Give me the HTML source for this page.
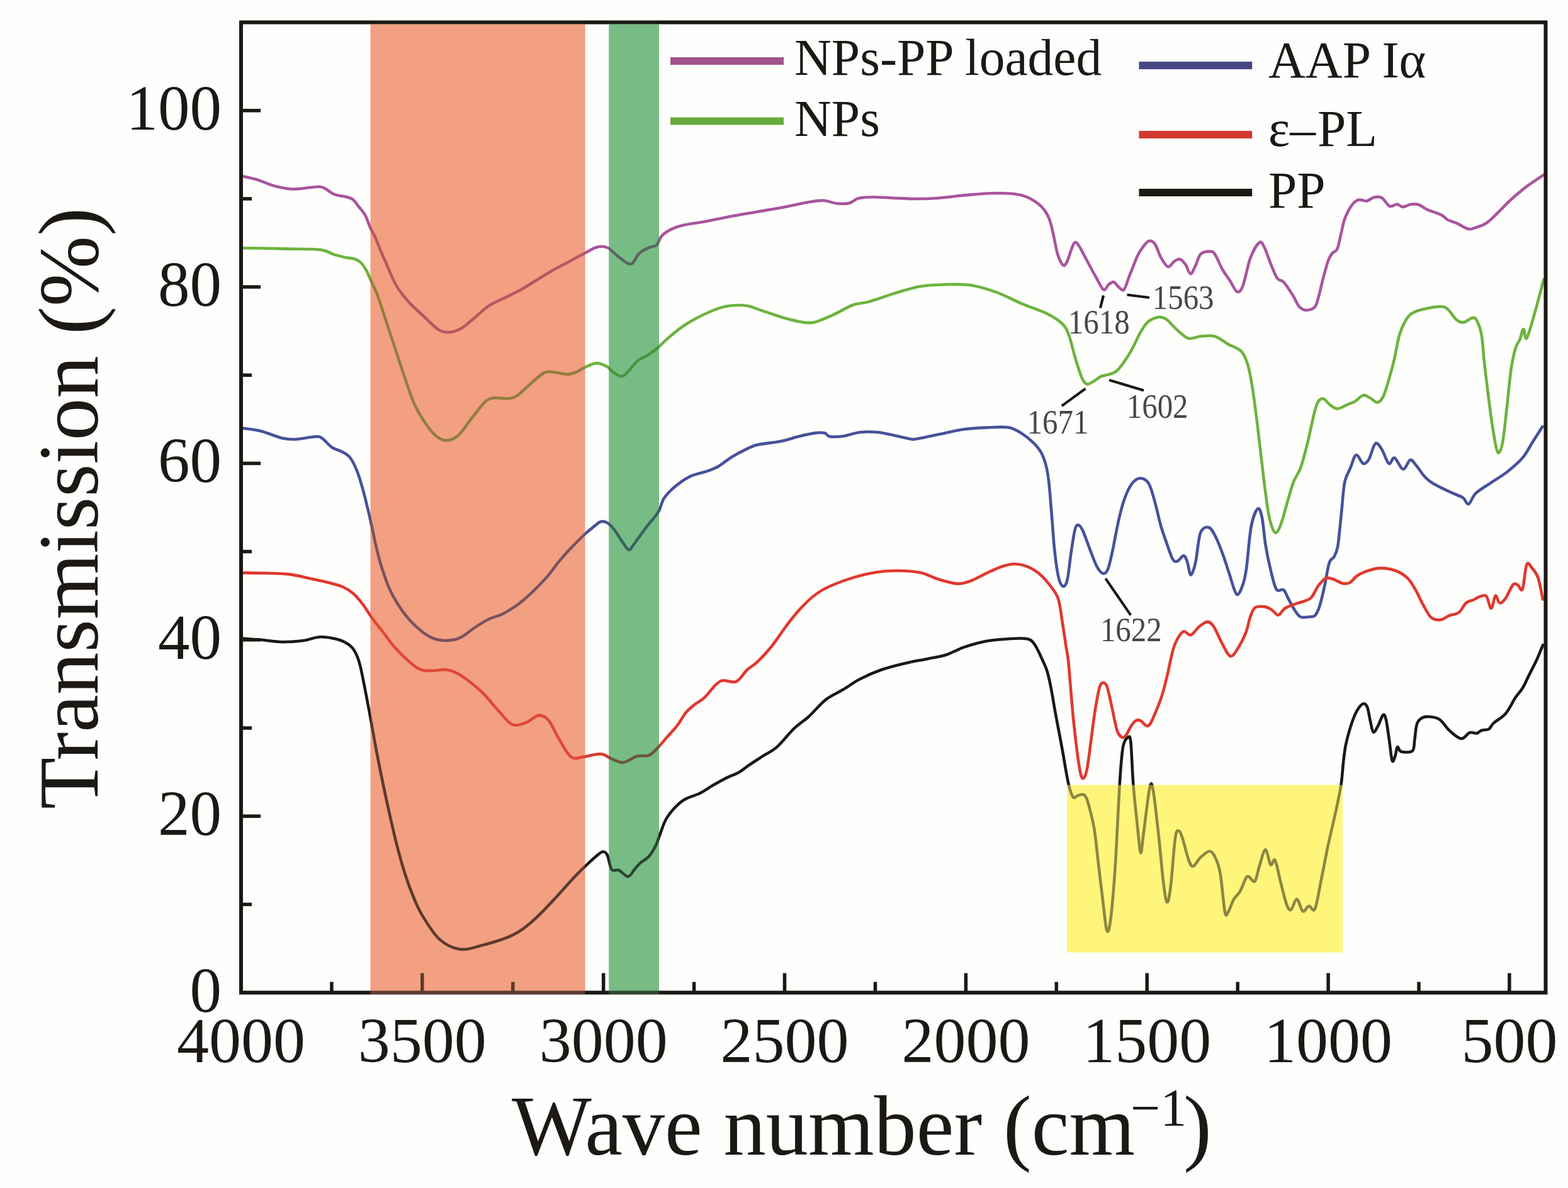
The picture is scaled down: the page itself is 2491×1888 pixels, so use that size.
<!DOCTYPE html>
<html><head><meta charset="utf-8"><title>FTIR spectra</title>
<style>
html,body{margin:0;padding:0;background:#fefefc;}
svg{display:block;}
.t{font-family:"Liberation Serif","DejaVu Serif",serif;fill:#1b1815;}
</style></head>
<body>
<svg width="2491" height="1888" viewBox="0 0 2491 1888">
<rect x="0" y="0" width="2491" height="1888" fill="#fefefc"/>
<g fill="none" stroke-width="4.6" stroke-linejoin="round" stroke-linecap="round">
<path d="M384.5,680.4C389.4,681.1 403.4,682.3 414.0,684.9C424.6,687.5 438.6,694.0 448.0,696.2C457.4,698.4 461.9,698.5 470.6,698.1C479.3,697.7 493.3,694.3 500.1,694.0C506.9,693.7 506.9,693.4 511.4,696.2C515.9,699.0 522.0,707.4 527.3,711.0C532.6,714.6 538.2,715.0 543.1,717.8C548.0,720.6 552.6,722.5 556.7,728.0C560.9,733.5 564.6,741.9 568.0,750.6C571.4,759.3 574.5,770.7 577.1,780.1C579.8,789.5 581.6,797.9 583.9,807.3C586.2,816.7 588.4,826.5 590.7,836.7C593.0,846.9 594.9,857.5 597.5,868.4C600.1,879.3 602.8,890.7 606.6,902.4C610.4,914.1 614.5,927.0 620.1,938.7C625.8,950.4 633.3,962.8 640.5,972.6C647.7,982.4 655.7,990.8 663.2,997.6C670.8,1004.4 678.2,1010.0 685.8,1013.4C693.3,1016.8 700.9,1018.0 708.5,1018.0C716.1,1018.0 723.7,1016.8 731.2,1013.4C738.8,1010.0 746.2,1002.5 753.8,997.6C761.3,992.7 768.8,987.8 776.5,984.0C784.2,980.2 791.1,979.7 800.0,974.9C808.9,970.1 819.0,964.1 830.0,955.0C841.0,945.9 856.5,930.4 866.1,920.0C875.7,909.6 880.9,901.0 887.6,892.9C894.4,884.8 899.6,878.8 906.6,871.4C913.6,864.0 923.1,854.5 929.4,848.6C935.7,842.7 940.4,839.2 944.6,835.9C948.8,832.6 951.3,829.8 954.7,829.0C958.1,828.2 961.2,828.7 964.8,830.9C968.4,833.1 972.2,837.2 976.2,842.3C980.2,847.4 985.1,856.0 988.9,861.3C992.7,866.6 995.9,873.5 999.0,873.9C1002.1,874.3 1003.1,869.9 1007.8,863.8C1012.5,857.7 1020.7,845.8 1027.0,837.5C1033.3,829.2 1041.2,821.3 1045.7,813.9C1050.2,806.5 1050.6,799.0 1054.1,793.1C1057.6,787.2 1061.7,783.2 1066.5,778.5C1071.3,773.8 1077.7,768.8 1083.2,765.0C1088.8,761.2 1092.9,758.5 1099.8,755.7C1106.7,752.9 1117.9,750.8 1124.8,748.4C1131.7,746.0 1135.2,744.8 1141.4,741.1C1147.6,737.5 1155.3,730.8 1162.2,726.5C1169.1,722.2 1176.1,718.4 1183.0,715.1C1189.9,711.8 1194.5,709.0 1203.8,706.8C1213.1,704.5 1228.0,703.9 1239.1,701.6C1250.2,699.4 1260.9,695.5 1270.3,693.3C1279.7,691.0 1288.7,689.0 1295.3,688.1C1301.9,687.2 1306.0,687.2 1309.8,688.1C1313.6,689.0 1313.3,692.8 1318.2,693.7C1323.1,694.6 1331.0,694.4 1339.0,693.3C1347.0,692.2 1356.7,688.0 1366.0,687.0C1375.3,686.0 1385.0,686.0 1395.1,687.0C1405.1,688.0 1417.6,691.5 1426.3,693.3C1435.0,695.1 1442.1,697.1 1447.1,697.8C1452.1,698.5 1448.9,698.7 1456.2,697.5C1463.5,696.3 1478.2,692.9 1490.7,690.4C1503.2,687.9 1517.7,684.1 1531.2,682.3C1544.7,680.4 1560.0,679.8 1571.8,679.3C1583.6,678.8 1593.8,677.8 1602.2,679.3C1610.6,680.8 1615.7,684.2 1622.4,688.4C1629.2,692.6 1637.3,699.2 1642.7,704.6C1648.1,710.0 1651.5,714.0 1654.9,720.8C1658.3,727.5 1661.0,736.3 1663.0,745.1C1665.0,753.9 1665.7,760.6 1667.0,773.5C1668.3,786.4 1669.7,805.6 1671.1,822.2C1672.5,838.8 1673.5,857.4 1675.2,872.9C1676.9,888.4 1679.0,905.6 1681.2,915.4C1683.4,925.2 1685.9,930.5 1688.3,931.6C1690.7,932.7 1693.2,930.8 1695.4,922.0C1697.6,913.2 1699.5,892.2 1701.5,878.9C1703.5,865.6 1705.7,849.8 1707.6,842.4C1709.5,835.0 1710.7,834.3 1712.7,834.3C1714.7,834.3 1716.8,836.6 1719.7,842.4C1722.6,848.1 1726.2,859.3 1729.9,868.8C1733.6,878.3 1738.3,892.1 1742.0,899.2C1745.7,906.3 1749.2,910.6 1752.2,911.4C1755.2,912.2 1757.6,910.4 1760.2,904.1C1762.8,897.8 1765.0,886.6 1767.8,873.6C1770.6,860.6 1774.1,839.6 1777.3,825.9C1780.5,812.2 1783.4,801.0 1786.9,791.5C1790.4,782.0 1794.2,773.9 1798.3,768.6C1802.4,763.4 1807.2,760.0 1811.7,760.0C1816.2,760.0 1821.2,762.4 1825.0,768.6C1828.8,774.8 1831.4,786.2 1834.6,797.3C1837.8,808.4 1840.9,824.3 1844.1,835.4C1847.3,846.5 1850.5,855.1 1853.7,864.0C1856.9,872.9 1860.4,884.3 1863.2,888.9C1866.0,893.5 1867.9,892.7 1870.8,891.7C1873.7,890.7 1877.9,882.9 1880.4,883.1C1883.0,883.3 1884.2,887.6 1886.1,892.7C1888.0,897.8 1889.6,913.7 1891.8,913.7C1894.0,913.7 1897.0,903.8 1899.5,892.7C1902.0,881.6 1903.6,856.0 1907.1,846.9C1910.6,837.8 1916.4,837.0 1920.5,838.3C1924.6,839.6 1928.1,847.0 1931.9,854.5C1935.7,862.0 1939.9,873.6 1943.4,883.1C1946.9,892.6 1949.4,901.6 1952.9,911.8C1956.4,922.0 1960.9,941.0 1964.4,944.2C1967.9,947.4 1971.3,937.5 1973.9,930.8C1976.5,924.1 1977.7,919.6 1980.0,904.0C1982.3,888.4 1984.6,853.1 1987.6,837.2C1990.6,821.3 1995.2,811.1 1998.1,808.6C2001.0,806.1 2002.7,812.5 2004.8,822.0C2006.9,831.5 2008.3,852.2 2010.5,865.9C2012.7,879.6 2015.3,892.2 2018.2,904.0C2021.1,915.8 2024.2,930.9 2027.7,936.5C2031.2,942.1 2035.9,934.9 2039.1,937.4C2042.3,939.9 2043.9,946.5 2046.8,951.7C2049.7,957.0 2053.1,964.1 2056.3,968.9C2059.5,973.7 2062.1,978.4 2065.9,980.3C2069.7,982.2 2075.4,980.6 2079.2,980.3C2083.0,980.0 2085.9,981.2 2088.8,978.4C2091.7,975.5 2093.9,970.8 2096.4,963.2C2098.9,955.6 2101.4,944.1 2104.0,932.6C2106.6,921.1 2109.1,902.5 2111.7,894.5C2114.2,886.5 2117.1,889.0 2119.3,884.9C2121.5,880.8 2123.4,877.7 2125.0,869.7C2126.6,861.8 2127.6,848.0 2128.8,837.2C2130.0,826.4 2130.8,816.9 2132.0,805.0C2133.2,793.1 2134.1,776.3 2136.3,766.0C2138.5,755.7 2142.4,750.5 2145.4,743.4C2148.4,736.2 2151.0,724.2 2154.4,723.1C2157.8,722.0 2162.3,735.6 2165.7,736.7C2169.1,737.8 2171.5,735.2 2174.7,729.9C2177.9,724.6 2181.5,707.6 2184.9,705.0C2188.3,702.4 2191.5,708.7 2195.1,714.0C2198.7,719.3 2203.0,734.4 2206.4,736.7C2209.8,739.0 2211.6,726.1 2215.4,727.6C2219.2,729.1 2224.8,745.1 2229.0,745.7C2233.2,746.3 2236.9,732.1 2240.3,731.0C2243.7,729.9 2245.5,734.6 2249.3,738.9C2253.1,743.2 2258.4,752.1 2262.9,757.0C2267.4,761.9 2269.7,764.1 2276.5,768.3C2283.3,772.4 2295.7,778.1 2303.6,781.9C2311.5,785.7 2319.0,787.7 2323.9,790.9C2328.8,794.1 2329.6,802.2 2333.0,801.1C2336.4,800.0 2338.7,789.6 2344.3,784.1C2350.0,778.6 2358.6,773.9 2366.9,768.3C2375.2,762.6 2385.3,757.0 2394.0,750.2C2402.7,743.4 2412.1,735.5 2418.9,727.6C2425.7,719.7 2429.4,711.0 2434.7,702.7C2440.0,694.4 2447.9,682.0 2450.5,677.9" stroke="#47519a"/>
<path d="M383.6,394.2C389.0,394.2 403.0,394.3 415.8,394.5C428.6,394.7 445.0,395.2 460.5,395.6C476.0,396.0 496.9,395.3 508.8,396.9C520.7,398.4 525.1,402.8 532.0,404.9C538.9,407.0 544.9,408.3 550.0,409.4C555.1,410.4 558.6,409.9 562.5,411.2C566.4,412.5 569.9,414.3 573.2,417.4C576.5,420.5 579.4,425.2 582.1,430.0C584.8,434.8 586.3,439.3 589.3,446.0C592.3,452.7 596.1,459.7 600.0,470.0C603.9,480.3 609.0,497.2 612.6,508.0C616.2,518.8 616.4,519.7 621.5,535.0C626.6,550.3 636.6,581.5 643.0,600.0C649.4,618.5 653.7,632.6 660.1,646.0C666.5,659.4 675.5,672.3 681.6,680.6C687.7,688.9 691.6,692.4 696.6,695.6C701.6,698.8 706.2,700.6 711.6,699.9C717.0,699.2 722.3,697.4 728.8,691.3C735.2,685.2 743.1,672.3 750.3,663.4C757.5,654.5 765.7,642.8 771.8,637.6C777.9,632.4 781.1,633.0 786.8,632.3C792.5,631.6 800.4,633.9 806.1,633.4C811.8,632.9 815.4,632.7 821.1,629.1C826.8,625.5 833.3,618.0 840.5,611.9C847.7,605.8 857.7,596.0 864.1,592.6C870.5,589.2 873.0,591.1 879.1,591.5C885.2,591.9 894.5,594.7 900.6,594.7C906.7,594.7 911.0,593.3 915.6,591.5C920.2,589.7 923.1,586.4 928.5,584.0C933.9,581.6 941.7,577.3 947.8,577.1C953.9,576.9 960.9,580.9 965.0,583.0C969.1,585.1 968.6,587.5 972.2,590.0C975.8,592.5 982.4,597.7 986.4,598.0C990.4,598.3 992.1,596.0 996.5,592.0C1000.9,588.0 1007.3,578.3 1012.7,573.7C1018.1,569.1 1023.5,568.2 1028.9,564.6C1034.3,561.0 1039.8,557.0 1045.2,552.4C1050.6,547.8 1054.7,542.9 1061.4,537.2C1068.2,531.5 1077.2,523.7 1085.7,518.0C1094.2,512.3 1102.6,507.5 1112.1,502.8C1121.6,498.1 1134.0,492.5 1142.5,489.6C1151.0,486.7 1155.4,486.1 1162.8,485.5C1170.2,484.9 1178.7,484.6 1187.1,486.1C1195.5,487.6 1203.9,491.5 1213.4,494.6C1222.9,497.7 1233.8,501.9 1243.9,504.8C1254.1,507.7 1265.8,510.7 1274.3,511.9C1282.8,513.1 1286.1,513.9 1294.6,511.9C1303.0,509.9 1314.9,504.3 1325.0,499.7C1335.1,495.1 1346.2,487.9 1355.4,484.5C1364.6,481.1 1369.1,482.6 1380.0,479.6C1390.9,476.6 1407.1,470.5 1420.6,466.4C1434.1,462.3 1447.6,457.6 1461.1,455.2C1474.6,452.8 1488.2,452.5 1501.7,452.2C1515.2,451.9 1528.7,451.2 1542.2,453.2C1555.7,455.2 1569.3,459.5 1582.8,464.4C1596.3,469.3 1609.8,476.9 1623.3,482.6C1636.8,488.3 1653.1,493.4 1663.9,498.8C1674.7,504.2 1682.5,509.4 1688.2,515.1C1693.9,520.9 1694.9,524.2 1698.3,533.3C1701.7,542.4 1705.1,558.6 1708.5,569.8C1711.9,580.9 1715.6,593.4 1718.6,600.2C1721.6,607.0 1723.7,609.4 1726.7,610.4C1729.8,611.4 1733.2,608.3 1736.9,606.3C1740.6,604.3 1745.0,600.1 1749.0,598.2C1753.0,596.4 1756.8,596.9 1761.2,595.2C1765.6,593.5 1769.7,594.0 1775.4,588.1C1781.2,582.2 1789.6,569.8 1795.7,559.7C1801.8,549.6 1807.4,535.5 1812.2,527.4C1817.0,519.3 1819.6,515.0 1824.3,511.1C1829.0,507.2 1835.9,504.7 1840.6,504.0C1845.3,503.3 1848.3,504.2 1852.7,507.1C1857.1,510.0 1861.2,516.2 1866.9,521.3C1872.7,526.4 1880.4,535.3 1887.2,537.5C1894.0,539.7 1900.4,535.0 1907.5,534.5C1914.6,534.0 1922.4,532.3 1929.8,534.5C1937.2,536.7 1946.7,544.7 1952.1,547.6C1957.5,550.5 1958.4,549.9 1962.0,552.0C1965.6,554.1 1970.2,555.5 1973.6,560.3C1977.0,565.1 1980.0,571.7 1982.6,580.7C1985.2,589.8 1987.1,600.7 1989.4,614.6C1991.7,628.5 1994.0,646.6 1996.2,664.3C1998.5,682.0 2000.7,702.0 2002.9,720.8C2005.2,739.6 2007.4,760.3 2009.7,777.3C2012.0,794.2 2013.8,811.0 2016.5,822.5C2019.2,834.0 2022.6,844.4 2025.6,846.3C2028.6,848.2 2031.2,842.4 2034.6,833.9C2038.0,825.4 2042.5,806.7 2045.9,795.4C2049.3,784.1 2051.5,774.7 2054.9,766.0C2058.3,757.3 2062.4,753.9 2066.2,743.4C2070.0,732.9 2074.1,716.2 2077.5,702.7C2080.9,689.2 2083.9,672.6 2086.6,662.1C2089.2,651.6 2090.8,644.2 2093.4,639.5C2096.0,634.8 2099.0,633.0 2102.4,633.8C2105.8,634.5 2109.9,641.4 2113.7,644.0C2117.5,646.6 2120.5,649.8 2125.0,649.6C2129.5,649.4 2136.3,644.7 2140.8,642.8C2145.3,640.9 2147.9,640.7 2152.1,638.3C2156.2,635.9 2161.5,629.1 2165.7,628.2C2169.8,627.3 2173.2,630.8 2177.0,632.7C2180.8,634.6 2184.9,639.9 2188.3,639.5C2191.7,639.1 2194.3,636.4 2197.3,630.4C2200.3,624.4 2203.4,613.5 2206.4,603.3C2209.4,593.1 2212.6,581.3 2215.4,569.4C2218.2,557.5 2219.9,542.7 2223.3,532.0C2226.7,521.3 2231.6,511.2 2235.8,505.1C2240.0,499.0 2242.9,497.8 2248.3,495.3C2253.7,492.8 2261.1,491.2 2268.0,489.9C2274.9,488.5 2284.1,486.9 2289.5,487.2C2294.9,487.5 2296.0,488.1 2300.2,491.7C2304.4,495.3 2310.3,505.3 2314.5,508.7C2318.7,512.1 2321.0,512.9 2325.2,512.3C2329.4,511.7 2336.0,505.4 2339.6,505.1C2343.2,504.8 2344.3,505.7 2346.7,510.5C2349.1,515.3 2352.1,523.2 2353.9,533.8C2355.8,544.4 2356.0,557.8 2357.8,573.9C2359.6,590.0 2362.3,612.7 2364.6,630.4C2366.9,648.1 2368.9,665.4 2371.4,680.1C2373.9,694.8 2376.7,714.8 2379.3,718.6C2381.9,722.4 2384.8,714.8 2387.2,702.7C2389.6,690.6 2391.7,665.8 2394.0,646.2C2396.3,626.6 2398.5,600.6 2400.8,585.2C2403.1,569.8 2405.3,561.3 2407.6,553.6C2409.9,545.9 2412.6,544.2 2414.7,539.1C2416.8,534.0 2418.3,523.3 2420.1,523.0C2421.9,522.7 2422.4,541.5 2425.4,537.3C2428.4,533.1 2433.5,513.5 2438.0,498.0C2442.5,482.5 2449.9,453.2 2452.3,444.3" stroke="#6db33f"/>
<path d="M383.6,279.7C387.5,280.6 398.5,282.5 406.8,285.0C415.1,287.5 424.8,292.3 433.7,294.9C442.6,297.4 453.1,299.5 460.5,300.3C467.9,301.1 470.9,300.3 478.4,299.7C485.8,299.1 498.9,296.8 505.2,296.7C511.5,296.6 511.5,297.3 516.0,299.4C520.5,301.5 526.3,307.0 532.0,309.2C537.7,311.4 545.2,311.5 550.0,312.8C554.8,314.1 557.4,314.7 560.7,317.2C564.0,319.7 566.3,323.8 569.6,328.0C572.9,332.2 577.4,336.9 580.4,342.3C583.4,347.7 584.8,354.2 587.5,360.2C590.2,366.1 593.5,371.4 596.5,378.0C599.5,384.6 602.8,393.8 605.4,400.0C608.0,406.2 608.0,406.1 612.0,415.0C616.0,423.9 623.1,442.6 629.3,453.4C635.5,464.2 641.4,471.1 649.0,479.6C656.6,488.1 667.2,497.1 675.1,504.5C683.0,511.9 690.2,520.0 696.6,523.9C703.0,527.8 707.7,528.5 713.8,528.1C719.9,527.7 726.3,525.6 733.1,521.7C739.9,517.8 747.5,510.4 754.6,504.5C761.8,498.6 767.8,491.7 776.0,486.3C784.2,480.9 795.8,476.4 804.0,472.3C812.2,468.2 818.2,465.5 825.4,461.6C832.5,457.7 838.7,453.7 846.9,448.7C855.1,443.7 865.8,436.7 874.8,431.5C883.8,426.3 891.6,422.4 900.6,417.6C909.6,412.8 920.6,406.6 928.5,402.5C936.4,398.4 941.7,394.4 947.8,392.9C953.9,391.4 958.9,390.7 965.0,393.5C971.1,396.3 978.0,405.1 984.3,409.5C990.6,413.9 997.5,420.6 1002.6,419.6C1007.7,418.6 1010.3,407.6 1014.7,403.4C1019.1,399.2 1024.2,396.7 1028.9,394.3C1033.6,391.9 1039.4,392.4 1043.1,389.2C1046.8,386.0 1047.5,379.1 1051.2,375.0C1054.9,370.9 1059.7,367.8 1065.4,364.9C1071.2,362.0 1076.2,360.0 1085.7,357.8C1095.2,355.6 1109.4,354.1 1122.2,351.7C1135.0,349.3 1149.3,346.1 1162.8,343.6C1176.3,341.1 1189.8,338.9 1203.3,336.5C1216.8,334.1 1230.4,331.9 1243.9,329.4C1257.4,326.9 1273.6,323.1 1284.4,321.3C1295.2,319.5 1301.3,318.4 1308.7,318.7C1316.1,319.0 1322.2,322.6 1329.0,323.3C1335.8,324.0 1343.5,324.1 1349.3,322.7C1355.0,321.3 1357.4,316.8 1363.5,315.2C1369.6,313.6 1376.3,313.3 1385.8,313.2C1395.3,313.1 1409.1,314.2 1420.6,314.7C1432.1,315.2 1443.2,316.0 1455.0,316.0C1466.8,316.0 1478.7,315.6 1491.5,314.7C1504.3,313.8 1518.5,311.6 1532.0,310.3C1545.5,309.1 1560.1,307.6 1572.6,307.2C1585.1,306.8 1597.6,306.9 1607.1,307.8C1616.6,308.7 1622.7,309.9 1629.4,312.3C1636.2,314.7 1642.5,318.7 1647.6,322.4C1652.7,326.1 1656.4,329.9 1659.8,334.6C1663.2,339.3 1665.5,344.0 1667.9,350.8C1670.3,357.6 1672.0,366.4 1674.0,375.2C1676.0,384.0 1677.7,395.9 1680.1,403.5C1682.5,411.1 1685.8,418.4 1688.2,420.8C1690.6,423.2 1691.9,421.9 1694.3,417.7C1696.7,413.5 1700.2,400.8 1702.4,395.4C1704.6,390.0 1705.5,386.0 1707.5,385.3C1709.5,384.6 1711.1,386.0 1714.6,391.4C1718.1,396.8 1724.3,409.6 1728.7,417.7C1733.1,425.8 1736.8,432.9 1740.9,440.0C1745.0,447.1 1749.7,458.3 1753.1,460.3C1756.5,462.3 1758.5,454.2 1761.2,452.2C1763.9,450.2 1766.6,447.5 1769.3,448.2C1772.0,448.9 1774.7,454.3 1777.4,456.3C1780.1,458.3 1782.8,463.0 1785.5,460.3C1788.2,457.6 1791.2,446.1 1793.6,440.0C1796.0,433.9 1797.9,429.2 1800.0,424.0C1802.1,418.8 1804.0,413.4 1806.0,409.0C1808.0,404.6 1809.2,401.9 1812.2,397.6C1815.2,393.3 1820.6,385.1 1824.3,383.4C1828.0,381.7 1831.1,383.1 1834.5,387.5C1837.9,391.9 1841.0,403.7 1844.6,409.8C1848.1,415.9 1852.4,423.0 1855.8,424.0C1859.2,425.0 1861.9,417.8 1864.9,415.8C1867.9,413.8 1871.0,411.1 1874.0,411.8C1877.0,412.5 1880.2,416.0 1883.1,419.9C1886.0,423.8 1888.5,434.8 1891.2,435.1C1893.9,435.4 1896.7,427.1 1899.4,421.9C1902.1,416.7 1903.8,407.4 1907.5,403.7C1911.2,400.0 1918.0,399.6 1921.7,399.6C1925.4,399.6 1926.4,399.0 1929.8,403.7C1933.2,408.4 1937.9,420.9 1941.9,428.0C1946.0,435.1 1950.2,440.4 1954.1,446.3C1958.0,452.2 1961.8,462.1 1965.2,463.5C1968.6,464.9 1970.9,463.3 1974.4,454.4C1978.0,445.4 1982.1,421.3 1986.5,409.8C1990.9,398.3 1997.0,388.1 2000.7,385.4C2004.4,382.7 2005.8,387.8 2008.8,393.5C2011.8,399.2 2015.6,411.8 2019.0,419.9C2022.4,428.0 2025.7,437.5 2029.1,442.2C2032.5,446.9 2035.2,443.9 2039.3,448.3C2043.3,452.7 2049.3,462.2 2053.4,468.6C2057.5,475.0 2060.2,482.8 2063.6,486.8C2067.0,490.9 2069.6,492.6 2073.7,492.9C2077.8,493.2 2084.5,491.9 2087.9,488.8C2091.3,485.8 2091.6,482.4 2094.0,474.6C2096.4,466.8 2099.4,452.3 2102.1,442.2C2104.8,432.1 2107.8,420.4 2110.2,413.8C2112.6,407.2 2113.9,405.7 2116.3,402.7C2118.7,399.7 2122.0,400.9 2124.4,395.6C2126.8,390.4 2128.5,379.3 2130.5,371.2C2132.5,363.1 2133.6,354.7 2136.6,346.9C2139.6,339.1 2145.0,329.5 2148.7,324.6C2152.4,319.7 2155.2,318.4 2158.9,317.5C2162.6,316.6 2166.9,320.2 2171.0,319.5C2175.1,318.8 2179.1,314.3 2183.2,313.5C2187.3,312.7 2191.3,312.1 2195.4,314.5C2199.5,316.9 2203.4,325.9 2207.5,327.6C2211.6,329.3 2216.2,324.4 2219.7,324.6C2223.2,324.8 2225.0,328.9 2228.6,328.9C2232.2,328.9 2237.0,325.4 2241.2,324.8C2245.4,324.2 2249.2,323.9 2253.7,325.3C2258.2,326.7 2262.0,330.7 2268.0,333.4C2274.0,336.1 2284.1,338.7 2289.5,341.4C2294.9,344.1 2296.0,347.3 2300.2,349.5C2304.4,351.7 2309.1,352.4 2314.5,354.8C2319.9,357.2 2327.6,362.6 2332.4,363.8C2337.2,365.0 2338.3,363.5 2343.1,362.0C2347.9,360.5 2355.0,358.7 2361.0,354.8C2367.0,350.9 2372.3,344.9 2378.9,338.7C2385.5,332.4 2392.9,324.1 2400.4,317.3C2407.9,310.5 2415.0,304.2 2423.7,297.6C2432.3,291.0 2447.5,281.2 2452.3,277.9" stroke="#a8559e"/>
<path d="M384.5,910.3C391.3,910.4 412.8,910.6 425.3,911.0C437.8,911.4 448.0,911.2 459.3,912.6C470.6,914.0 482.0,917.0 493.3,919.4C504.6,921.8 518.6,925.0 527.3,927.3C536.0,929.6 539.8,930.4 545.4,933.0C551.0,935.6 555.9,938.5 561.2,943.2C566.5,947.9 572.2,954.9 577.1,961.3C582.0,967.7 585.8,974.9 590.7,981.7C595.6,988.5 600.0,993.7 606.6,1002.1C613.2,1010.5 620.9,1022.4 630.2,1032.2C639.5,1042.0 653.3,1055.6 662.4,1061.2C671.5,1066.8 676.8,1065.5 684.9,1066.0C693.0,1066.5 702.7,1063.1 710.7,1064.4C718.8,1065.8 724.1,1068.2 733.2,1074.1C742.3,1080.0 755.7,1090.7 765.4,1099.8C775.1,1108.9 783.1,1120.2 791.2,1128.8C799.3,1137.4 806.3,1148.2 813.8,1151.4C821.3,1154.6 829.3,1150.5 836.3,1148.1C843.3,1145.7 849.7,1137.4 855.6,1136.9C861.5,1136.4 866.3,1138.7 871.7,1144.9C877.1,1151.1 881.9,1164.2 887.8,1173.9C893.7,1183.6 900.6,1198.1 907.1,1202.9C913.6,1207.7 920.0,1203.6 926.5,1202.9C933.0,1202.2 940.5,1199.7 945.8,1199.0C951.1,1198.3 954.1,1197.7 958.1,1198.7C962.1,1199.7 964.6,1202.8 969.5,1205.0C974.4,1207.2 982.7,1211.2 987.6,1211.8C992.5,1212.4 994.8,1210.1 998.9,1208.4C1003.0,1206.7 1007.2,1202.9 1012.5,1201.6C1017.8,1200.3 1025.3,1202.6 1030.6,1200.5C1035.9,1198.4 1039.3,1194.1 1044.2,1189.2C1049.1,1184.3 1054.8,1177.0 1060.1,1171.0C1065.4,1165.0 1071.1,1159.3 1076.0,1152.9C1080.9,1146.5 1085.1,1138.0 1089.6,1132.5C1094.1,1127.0 1098.3,1124.0 1103.2,1120.0C1108.1,1116.0 1113.3,1114.0 1119.0,1108.7C1124.7,1103.4 1132.2,1092.8 1137.1,1088.3C1142.0,1083.8 1143.6,1082.2 1148.5,1081.5C1153.4,1080.8 1162.1,1084.4 1166.6,1083.8C1171.1,1083.2 1172.3,1081.3 1175.7,1078.1C1179.1,1074.9 1182.4,1068.9 1187.0,1064.5C1191.6,1060.1 1196.8,1058.1 1203.5,1051.6C1210.2,1045.1 1219.2,1035.5 1227.0,1025.7C1234.8,1015.9 1242.7,1003.0 1250.5,992.8C1258.3,982.6 1266.2,972.8 1274.0,964.6C1281.8,956.4 1289.7,949.2 1297.5,943.5C1305.3,937.8 1311.2,934.8 1321.0,930.5C1330.8,926.2 1344.5,921.1 1356.3,917.6C1368.1,914.1 1379.8,911.2 1391.6,909.4C1403.3,907.6 1415.0,906.9 1426.8,907.0C1438.5,907.1 1451.4,907.9 1462.1,910.1C1472.8,912.4 1480.9,917.6 1490.7,920.5C1500.5,923.4 1512.6,927.1 1521.1,927.6C1529.5,928.1 1533.6,926.3 1541.4,923.5C1549.2,920.7 1559.5,914.5 1567.9,910.6C1576.3,906.7 1584.6,902.6 1592.0,900.2C1599.4,897.8 1605.3,896.0 1612.3,896.2C1619.2,896.4 1626.9,898.3 1633.7,901.2C1640.5,904.1 1647.0,908.3 1652.9,913.4C1658.8,918.5 1664.4,925.2 1669.1,931.6C1673.8,938.0 1678.1,942.5 1681.2,951.9C1684.3,961.3 1685.6,975.7 1687.6,988.1C1689.6,1000.5 1691.8,1016.0 1693.4,1026.3C1695.0,1036.6 1696.1,1040.0 1697.2,1050.0C1698.3,1060.0 1699.0,1071.4 1700.3,1086.5C1701.6,1101.6 1703.2,1122.7 1705.0,1140.8C1706.8,1158.9 1709.3,1180.3 1711.2,1195.0C1713.1,1209.7 1714.9,1222.1 1716.6,1229.1C1718.3,1236.1 1719.5,1237.9 1721.2,1236.9C1722.9,1235.9 1724.8,1232.5 1726.7,1222.9C1728.7,1213.3 1730.8,1194.5 1732.9,1179.5C1735.0,1164.5 1736.8,1147.5 1739.1,1133.0C1741.4,1118.5 1744.5,1100.7 1746.8,1092.7C1749.1,1084.7 1750.9,1085.0 1753.0,1085.0C1755.1,1085.0 1756.9,1085.7 1759.2,1092.7C1761.5,1099.7 1764.4,1115.4 1767.0,1126.8C1769.6,1138.2 1772.1,1153.4 1774.7,1160.9C1777.3,1168.4 1780.2,1170.5 1782.5,1171.8C1784.8,1173.1 1786.4,1171.5 1788.7,1168.7C1791.0,1165.9 1793.8,1158.6 1796.4,1154.7C1799.0,1150.8 1801.6,1147.0 1804.2,1145.4C1806.8,1143.9 1809.1,1144.1 1811.9,1145.4C1814.7,1146.7 1818.6,1152.4 1821.2,1153.2C1823.8,1154.0 1824.8,1154.0 1827.4,1150.1C1830.0,1146.2 1833.6,1137.4 1836.7,1129.9C1839.8,1122.4 1843.2,1114.1 1846.0,1105.1C1848.8,1096.1 1850.9,1087.6 1853.8,1075.7C1856.7,1063.8 1860.4,1044.1 1863.2,1033.9C1866.0,1023.8 1867.9,1019.9 1870.8,1014.8C1873.7,1009.7 1876.9,1004.3 1880.4,1003.4C1883.9,1002.5 1887.7,1010.4 1891.8,1009.1C1895.9,1007.8 1900.8,999.2 1905.2,995.7C1909.7,992.2 1914.7,988.1 1918.5,988.1C1922.3,988.1 1924.6,990.6 1928.1,995.7C1931.6,1000.8 1935.7,1011.3 1939.5,1018.6C1943.3,1025.9 1947.8,1035.8 1951.0,1039.6C1954.2,1043.4 1955.4,1044.0 1958.6,1041.5C1961.8,1039.0 1966.5,1030.8 1970.1,1024.4C1973.7,1018.0 1977.4,1010.2 1980.0,1003.2C1982.6,996.2 1983.5,988.5 1985.7,982.3C1987.9,976.1 1989.6,969.0 1993.4,966.0C1997.2,963.0 2004.1,963.6 2008.6,964.1C2013.0,964.6 2016.4,966.7 2020.1,968.9C2023.8,971.1 2027.1,977.8 2030.6,977.5C2034.1,977.2 2036.8,969.9 2041.1,967.0C2045.4,964.1 2051.2,962.2 2056.3,960.3C2061.4,958.4 2067.2,957.2 2071.6,955.5C2076.0,953.8 2079.2,953.9 2083.0,949.8C2086.8,945.7 2090.7,935.8 2094.5,930.7C2098.3,925.6 2102.1,921.0 2105.9,919.3C2109.7,917.5 2113.0,918.9 2117.4,920.2C2121.8,921.5 2128.2,925.9 2132.6,926.9C2137.0,927.9 2140.3,927.9 2144.1,926.0C2147.9,924.1 2151.4,918.4 2155.5,915.5C2159.6,912.6 2162.6,910.7 2168.6,908.6C2174.6,906.5 2183.6,903.2 2191.5,902.9C2199.4,902.6 2209.0,904.2 2216.3,906.7C2223.6,909.2 2230.0,913.1 2235.4,918.2C2240.8,923.3 2244.7,930.3 2248.8,937.3C2253.0,944.3 2256.2,952.9 2260.3,960.2C2264.4,967.5 2268.8,977.1 2273.6,981.2C2278.4,985.3 2284.1,985.5 2288.9,985.0C2293.7,984.5 2297.4,980.2 2302.2,978.3C2307.0,976.4 2313.0,976.8 2317.5,973.5C2322.0,970.2 2325.2,961.6 2329.0,958.3C2332.8,955.0 2336.6,955.2 2340.4,953.5C2344.2,951.8 2348.4,948.8 2351.9,947.8C2355.4,946.8 2358.5,944.6 2361.4,947.8C2364.3,951.0 2366.7,967.0 2369.1,966.8C2371.5,966.6 2373.5,948.2 2375.7,946.8C2377.9,945.4 2379.7,957.7 2382.4,958.3C2385.1,958.9 2388.5,955.4 2392.0,950.6C2395.5,945.8 2400.2,933.1 2403.4,929.6C2406.6,926.1 2408.4,928.5 2411.0,929.6C2413.6,930.7 2416.3,941.7 2418.7,936.3C2421.1,930.9 2422.8,902.8 2425.4,897.2C2428.0,891.6 2431.0,899.4 2434.0,902.9C2437.0,906.4 2440.7,909.9 2443.5,918.2C2446.3,926.5 2449.8,946.8 2451.1,952.5" stroke="#e0382e"/>
<path d="M384.5,1014.6C389.4,1015.0 403.4,1015.9 414.0,1016.8C424.6,1017.7 436.7,1020.0 448.0,1020.2C459.3,1020.4 471.8,1019.3 482.0,1018.0C492.2,1016.7 499.7,1012.5 509.1,1012.3C518.5,1012.1 531.1,1014.7 538.6,1016.8C546.1,1018.9 550.2,1021.7 554.4,1024.7C558.5,1027.7 560.5,1029.5 563.5,1035.0C566.5,1040.5 568.6,1043.4 572.2,1058.0C575.8,1072.6 580.8,1099.9 585.1,1122.4C589.4,1144.9 593.2,1168.3 598.0,1193.2C602.8,1218.1 608.7,1247.2 614.1,1272.0C619.5,1296.8 625.2,1322.2 630.2,1342.0C635.2,1361.8 639.5,1376.5 644.0,1390.5C648.5,1404.5 652.5,1415.2 657.0,1426.0C661.5,1436.8 664.2,1443.9 671.0,1455.0C677.8,1466.1 688.0,1483.5 697.8,1492.4C707.6,1501.3 718.7,1506.8 730.0,1508.5C741.3,1510.2 751.4,1506.1 765.4,1502.4C779.4,1498.7 800.4,1492.7 813.8,1486.3C827.2,1479.9 835.3,1472.9 846.0,1463.8C856.7,1454.7 867.5,1442.9 878.2,1431.6C888.9,1420.3 901.3,1405.8 910.4,1396.1C919.5,1386.4 926.4,1379.8 932.9,1373.6C939.4,1367.4 944.9,1362.4 949.1,1359.1C953.3,1355.8 955.5,1353.5 958.1,1353.5C960.7,1353.5 962.6,1354.4 964.9,1359.1C967.2,1363.8 968.7,1377.8 971.7,1381.8C974.7,1385.8 978.8,1381.0 983.1,1382.9C987.5,1384.8 993.6,1393.3 997.8,1393.1C1001.9,1392.9 1004.8,1385.4 1008.0,1381.8C1011.2,1378.2 1013.2,1375.0 1017.0,1371.6C1020.8,1368.2 1026.4,1366.1 1030.6,1361.4C1034.8,1356.7 1039.0,1349.3 1042.0,1343.3C1045.0,1337.2 1046.2,1331.9 1048.8,1325.1C1051.4,1318.3 1054.0,1309.3 1057.8,1302.5C1061.6,1295.7 1066.5,1289.6 1071.4,1284.3C1076.3,1279.0 1080.5,1274.7 1087.3,1270.7C1094.1,1266.7 1104.7,1264.3 1112.2,1260.5C1119.8,1256.7 1125.4,1252.2 1132.6,1248.1C1139.8,1243.9 1148.5,1239.0 1155.3,1235.6C1162.1,1232.2 1167.7,1230.9 1173.4,1227.7C1179.1,1224.5 1182.9,1220.8 1189.3,1216.4C1195.7,1212.1 1204.4,1206.5 1211.9,1201.6C1219.5,1196.7 1226.3,1194.3 1234.6,1186.9C1242.9,1179.5 1253.5,1165.3 1261.8,1157.4C1270.1,1149.5 1276.1,1146.8 1284.4,1139.3C1292.7,1131.8 1302.5,1119.3 1311.6,1112.1C1320.7,1104.9 1329.7,1101.8 1338.8,1096.3C1347.9,1090.8 1355.8,1084.6 1366.0,1079.3C1376.2,1074.0 1387.9,1068.7 1400.0,1064.5C1412.1,1060.3 1426.3,1056.9 1438.6,1054.0C1450.9,1051.1 1463.2,1049.1 1473.8,1046.9C1484.4,1044.7 1492.3,1044.1 1502.1,1041.0C1511.9,1037.9 1521.6,1031.8 1532.6,1028.1C1543.6,1024.4 1556.2,1020.9 1567.9,1018.7C1579.7,1016.6 1592.5,1015.8 1603.1,1015.2C1613.7,1014.6 1624.6,1013.8 1631.3,1015.2C1638.0,1016.6 1639.2,1018.3 1643.1,1023.4C1647.0,1028.5 1651.4,1038.7 1654.8,1046.0C1658.2,1053.3 1661.1,1058.8 1663.6,1067.0C1666.1,1075.2 1667.8,1083.7 1670.0,1095.0C1672.2,1106.3 1674.1,1119.3 1677.0,1135.0C1679.9,1150.7 1683.8,1170.5 1687.2,1189.0C1690.6,1207.5 1694.5,1233.0 1697.5,1246.0C1700.5,1259.0 1702.6,1263.8 1704.9,1266.9C1707.2,1270.0 1708.9,1265.5 1711.2,1264.8C1713.5,1264.1 1716.9,1262.5 1719.0,1262.5C1721.1,1262.5 1722.4,1262.7 1724.0,1265.0C1725.6,1267.3 1726.3,1267.7 1728.7,1276.4C1731.1,1285.1 1735.5,1300.3 1738.3,1317.0C1741.1,1333.7 1743.0,1356.7 1745.4,1376.6C1747.8,1396.5 1750.4,1419.2 1752.6,1436.3C1754.8,1453.4 1756.5,1475.2 1758.5,1479.2C1760.5,1483.2 1762.3,1477.2 1764.5,1460.1C1766.7,1443.0 1769.3,1412.4 1771.7,1376.6C1774.1,1340.8 1776.8,1277.0 1778.8,1245.4C1780.8,1213.9 1781.8,1199.5 1784.0,1187.3C1786.2,1175.1 1789.7,1173.3 1791.8,1172.0C1793.9,1170.7 1795.0,1167.3 1796.4,1179.5C1797.8,1191.7 1798.5,1222.5 1800.3,1245.4C1802.1,1268.3 1805.4,1298.7 1807.4,1317.0C1809.4,1335.3 1810.6,1354.4 1812.2,1355.2C1813.8,1356.0 1814.6,1339.0 1817.0,1321.8C1819.4,1304.6 1824.0,1262.8 1826.5,1252.0C1829.0,1241.2 1829.7,1244.3 1832.1,1257.1C1834.5,1269.9 1838.1,1305.0 1840.8,1328.9C1843.5,1352.8 1845.8,1383.0 1848.0,1400.5C1850.2,1418.0 1852.0,1432.7 1854.0,1433.9C1856.0,1435.1 1857.7,1424.7 1859.9,1407.6C1862.1,1390.5 1864.9,1345.8 1867.1,1331.3C1869.3,1316.8 1871.0,1320.2 1873.0,1320.6C1875.0,1321.0 1876.4,1326.0 1879.0,1333.7C1881.6,1341.5 1885.7,1359.9 1888.5,1367.1C1891.3,1374.2 1892.5,1377.4 1895.7,1376.6C1898.9,1375.8 1903.2,1366.3 1907.6,1362.3C1912.0,1358.3 1918.0,1352.4 1922.0,1352.8C1926.0,1353.2 1928.7,1358.8 1931.5,1364.7C1934.3,1370.7 1936.2,1374.6 1938.6,1388.5C1941.0,1402.4 1943.8,1437.9 1945.8,1448.2C1947.8,1458.5 1948.2,1453.8 1950.6,1450.6C1953.0,1447.4 1956.9,1434.7 1960.1,1429.1C1963.3,1423.5 1966.5,1422.8 1969.7,1417.2C1972.9,1411.6 1976.8,1399.7 1979.2,1395.7C1981.6,1391.7 1981.6,1392.5 1984.0,1393.3C1986.4,1394.1 1990.7,1403.3 1993.5,1400.5C1996.3,1397.7 1997.9,1384.9 2000.7,1376.6C2003.5,1368.2 2007.2,1350.8 2010.2,1350.4C2013.2,1350.0 2016.0,1371.4 2018.6,1374.2C2021.2,1377.0 2023.1,1362.7 2025.7,1367.1C2028.3,1371.5 2031.1,1389.0 2034.1,1400.5C2037.1,1412.0 2040.8,1428.8 2043.6,1436.3C2046.4,1443.8 2048.0,1447.0 2050.8,1445.8C2053.6,1444.6 2057.1,1428.7 2060.3,1429.1C2063.5,1429.5 2066.6,1446.4 2069.8,1448.2C2073.0,1450.0 2076.2,1440.4 2079.4,1439.8C2082.6,1439.2 2085.7,1451.1 2088.9,1444.6C2092.1,1438.0 2094.9,1417.8 2098.5,1400.5C2102.1,1383.2 2106.4,1359.5 2110.4,1340.8C2114.4,1322.1 2119.0,1304.0 2122.3,1288.4C2125.7,1272.8 2128.5,1259.9 2130.5,1247.0C2132.5,1234.1 2132.9,1221.5 2134.1,1211.2C2135.3,1200.9 2136.1,1193.3 2137.7,1185.0C2139.3,1176.7 2141.3,1169.1 2143.7,1161.1C2146.1,1153.1 2149.4,1143.4 2152.0,1137.2C2154.6,1131.0 2156.8,1127.3 2159.2,1124.1C2161.6,1120.9 2164.1,1118.2 2166.3,1118.2C2168.5,1118.2 2170.5,1119.3 2172.3,1124.1C2174.1,1128.9 2175.5,1140.2 2177.1,1146.8C2178.7,1153.4 2179.8,1162.3 2181.8,1163.5C2183.8,1164.7 2186.4,1158.5 2189.0,1153.9C2191.6,1149.3 2195.1,1137.7 2197.3,1136.1C2199.5,1134.5 2200.5,1137.9 2202.1,1144.4C2203.7,1151.0 2205.3,1164.7 2206.9,1175.4C2208.5,1186.1 2210.0,1204.4 2211.6,1208.8C2213.2,1213.2 2215.0,1205.2 2216.4,1201.6C2217.8,1198.0 2218.4,1188.5 2220.0,1187.3C2221.6,1186.1 2222.0,1193.5 2226.0,1194.5C2230.0,1195.5 2240.2,1196.5 2243.8,1193.3C2247.4,1190.1 2246.2,1182.6 2247.4,1175.4C2248.6,1168.2 2249.0,1156.2 2251.0,1150.4C2253.0,1144.6 2256.1,1142.7 2259.3,1140.8C2262.5,1138.9 2265.5,1138.6 2270.1,1139.0C2274.7,1139.4 2281.7,1139.8 2287.0,1143.4C2292.3,1147.0 2296.5,1155.5 2302.2,1160.6C2307.9,1165.7 2315.9,1173.3 2321.3,1173.9C2326.7,1174.5 2330.6,1165.8 2334.7,1164.4C2338.8,1163.0 2342.9,1166.0 2346.1,1165.4C2349.3,1164.8 2350.6,1161.7 2353.8,1160.6C2357.0,1159.5 2362.0,1160.6 2365.2,1158.7C2368.4,1156.8 2368.4,1153.2 2372.9,1149.1C2377.4,1145.0 2386.3,1140.6 2392.0,1133.9C2397.7,1127.2 2402.8,1115.7 2407.2,1109.0C2411.6,1102.3 2414.9,1100.1 2418.7,1093.8C2422.5,1087.5 2426.3,1078.5 2430.1,1070.9C2433.9,1063.3 2438.1,1055.6 2441.6,1048.0C2445.1,1040.4 2449.5,1028.9 2451.1,1025.1" stroke="#1b1815"/>
</g>
<g stroke="#1b1815" stroke-width="5.5" fill="none">
<line x1="526.9" y1="1577.5" x2="526.9" y2="1560.5"/>
<line x1="670.8" y1="1577.5" x2="670.8" y2="1546.5"/>
<line x1="814.8" y1="1577.5" x2="814.8" y2="1560.5"/>
<line x1="958.7" y1="1577.5" x2="958.7" y2="1546.5"/>
<line x1="1102.6" y1="1577.5" x2="1102.6" y2="1560.5"/>
<line x1="1246.5" y1="1577.5" x2="1246.5" y2="1546.5"/>
<line x1="1390.5" y1="1577.5" x2="1390.5" y2="1560.5"/>
<line x1="1534.4" y1="1577.5" x2="1534.4" y2="1546.5"/>
<line x1="1678.3" y1="1577.5" x2="1678.3" y2="1560.5"/>
<line x1="1822.2" y1="1577.5" x2="1822.2" y2="1546.5"/>
<line x1="1966.2" y1="1577.5" x2="1966.2" y2="1560.5"/>
<line x1="2110.1" y1="1577.5" x2="2110.1" y2="1546.5"/>
<line x1="2254.0" y1="1577.5" x2="2254.0" y2="1560.5"/>
<line x1="2397.9" y1="1577.5" x2="2397.9" y2="1546.5"/>
<line x1="383.0" y1="1437.3" x2="400.0" y2="1437.3"/>
<line x1="383.0" y1="1297.1" x2="414.0" y2="1297.1"/>
<line x1="383.0" y1="1157.0" x2="400.0" y2="1157.0"/>
<line x1="383.0" y1="1016.8" x2="414.0" y2="1016.8"/>
<line x1="383.0" y1="876.6" x2="400.0" y2="876.6"/>
<line x1="383.0" y1="736.4" x2="414.0" y2="736.4"/>
<line x1="383.0" y1="596.2" x2="400.0" y2="596.2"/>
<line x1="383.0" y1="456.0" x2="414.0" y2="456.0"/>
<line x1="383.0" y1="315.9" x2="400.0" y2="315.9"/>
<line x1="383.0" y1="175.7" x2="414.0" y2="175.7"/>
<rect x="383.0" y="35.5" width="2072.5" height="1542.0" stroke-width="6"/>
</g>
<g>
<rect x="588.5" y="38.5" width="341.0" height="1541.5" fill="#f4a083" style="mix-blend-mode:multiply"/><rect x="588.5" y="38.5" width="341.0" height="1541.5" fill="#f4a083" opacity="0.3"/>
<rect x="967.3" y="38.5" width="79.70000000000005" height="1541.5" fill="#77bd86" style="mix-blend-mode:multiply"/><rect x="967.3" y="38.5" width="79.70000000000005" height="1541.5" fill="#77bd86" opacity="0.3"/>
<rect x="1695" y="1247.5" width="438" height="266.0" fill="#fff57c" style="mix-blend-mode:multiply"/><rect x="1695" y="1247.5" width="438" height="266.0" fill="#fff57c" opacity="0.5"/>
</g>
<g stroke="#1b1815" stroke-width="4.2" fill="none" stroke-linecap="butt">
<line x1="1753" y1="469.5" x2="1748" y2="489.5"/>
<line x1="1790.5" y1="468.5" x2="1826" y2="473"/>
<line x1="1724.4" y1="617.6" x2="1686.8" y2="645.1"/>
<line x1="1762" y1="603.9" x2="1817" y2="620.5"/>
<line x1="1756.3" y1="919.4" x2="1796.4" y2="977.6"/>
</g>
<g class="t" font-size="55" style="fill:#474747">
<text transform="translate(1696.8,529.8) scale(0.89,1)">1618</text>
<text transform="translate(1830.7,490.6) scale(0.89,1)">1563</text>
<text transform="translate(1631.5,688.7) scale(0.89,1)">1671</text>
<text transform="translate(1789.7,664.3) scale(0.89,1)">1602</text>
<text transform="translate(1747.9,1019) scale(0.89,1)">1622</text>
</g>
<g class="t" font-size="102" text-anchor="middle">
<text x="383.0" y="1688">4000</text>
<text x="670.8" y="1688">3500</text>
<text x="958.7" y="1688">3000</text>
<text x="1246.5" y="1688">2500</text>
<text x="1534.4" y="1688">2000</text>
<text x="1822.2" y="1688">1500</text>
<text x="2110.1" y="1688">1000</text>
<text x="2397.9" y="1688">500</text>
</g>
<g class="t" font-size="101" text-anchor="end">
<text x="352" y="1607.5">0</text>
<text x="352" y="1327.1">20</text>
<text x="352" y="1046.8">40</text>
<text x="352" y="766.4">60</text>
<text x="352" y="486.0">80</text>
<text x="352" y="205.7">100</text>
</g>
<text class="t" font-size="134.6" text-anchor="middle" transform="translate(155,808) rotate(-90)">Transmission (%)</text>
<text class="t" font-size="134.5" x="813" y="1834.7">Wave number (cm</text>
<text class="t" font-size="84" x="1796" y="1789.4">&#8722;1</text>
<text class="t" font-size="134.5" x="1880" y="1834.7">)</text>
<g stroke-width="12" fill="none">
<line x1="1065" y1="97" x2="1245" y2="97" stroke="#a0528c"/>
<line x1="1065" y1="192.4" x2="1245" y2="192.4" stroke="#6aab3d"/>
<line x1="1809.4" y1="104" x2="1989.2" y2="104" stroke="#464784"/>
<line x1="1809.4" y1="214" x2="1989.2" y2="214" stroke="#d23a2f"/>
<line x1="1809.4" y1="306" x2="1989.2" y2="306" stroke="#1b1815"/>
</g>
<g class="t" font-size="81.5">
<text x="1262" y="118.6">NPs-PP loaded</text>
<text x="1262" y="215.6">NPs</text>
<text x="2015" y="122.7">AAP I&#945;</text>
<text x="2015" y="231.6">&#949;&#8211;<tspan dx="3">PL</tspan></text>
<text x="2015" y="329.8">PP</text>
</g>
</svg>
</body></html>
